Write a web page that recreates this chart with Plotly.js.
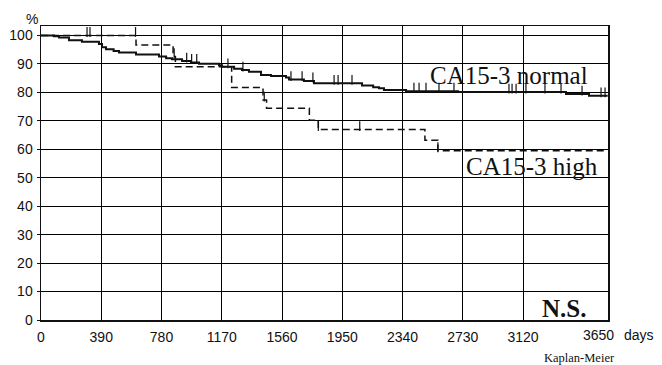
<!DOCTYPE html>
<html>
<head>
<meta charset="utf-8">
<script src="https://cdn.plot.ly/plotly-3.0.1.min.js"></script>
<style>
  html, body { margin: 0; padding: 0; background: #fff; }
  #chart { width: 662px; height: 365px; }
</style>
</head>
<body>
<div id="chart"></div>
<script>
// ---- data ----
const xTickVals = [0, 390, 780, 1170, 1560, 1950, 2340, 2730, 3120];
const xTickText = ["0", "390", "780", "1170", "1560", "1950", "2340", "2730", "3120"];
const yTickVals = [0, 10, 20, 30, 40, 50, 60, 70, 80, 90, 100];

// CA15-3 normal (solid)
const daysNormal = [0, 84, 117, 181, 265, 375, 395, 421, 470, 505, 615, 764, 810, 848, 913, 970, 1023, 1152, 1172, 1250, 1301, 1346, 1424, 1489, 1586, 1605, 1702, 1767, 2078, 2150, 2188, 2220, 2363, 2700, 3398, 3547, 3668];
const survNormal = [100, 99.7, 99.3, 98.3, 97.8, 97.0, 95.8, 95.1, 94.5, 94.0, 93.3, 92.6, 92.0, 91.6, 91.0, 90.5, 90.0, 89.5, 89.0, 88.3, 87.8, 87.2, 86.1, 85.7, 85.2, 84.5, 84.0, 83.2, 82.4, 81.8, 81.4, 80.8, 80.4, 80.1, 79.4, 78.8, 78.8];
const censorNormal = [943, 975, 1008, 1210, 1307, 1618, 1690, 1760, 1897, 1923, 2013, 2414, 2447, 2492, 2576, 2673, 3029, 3049, 3075, 3139, 3262, 3366, 3502, 3625, 3651];

// CA15-3 high (dashed)
const daysHigh = [0, 615, 855, 870, 1234, 1437, 1460, 1737, 1795, 2485, 2569, 3668];
const survHigh = [100, 96.6, 92.6, 89.0, 81.7, 77.3, 74.4, 70.2, 66.9, 63.2, 59.5, 59.5];
const censorHigh = [298, 317, 612, 862, 1445, 1795, 2063, 2569];

// ---- helpers ----
function stepAt(days, surv, t) {
  let v = surv[0];
  for (let i = 0; i < days.length; i++) { if (days[i] <= t) v = surv[i]; else break; }
  return v;
}
const tickLift = 1.2;
function censorY(days, surv, list) { return list.map(t => stepAt(days, surv, t) + tickLift); }

const serif = "Liberation Serif, Times New Roman, serif";
const sans = "Liberation Sans, Arial, sans-serif";
const ink = "#111";

const traces = [
  { x: daysNormal, y: survNormal, type: "scatter", mode: "lines", line: { shape: "hv", color: ink, width: 2 }, hoverinfo: "skip" },
  { x: daysHigh, y: survHigh, type: "scatter", mode: "lines", line: { shape: "hv", color: ink, width: 1.5, dash: "7px,4px" }, hoverinfo: "skip" },
  { x: censorNormal, y: censorY(daysNormal, survNormal, censorNormal), type: "scatter", mode: "markers",
    marker: { symbol: "line-ns-open", size: 7, color: ink, line: { color: ink, width: 1.2 } }, hoverinfo: "skip" },
  { x: censorHigh, y: censorY(daysHigh, survHigh, censorHigh), type: "scatter", mode: "markers",
    marker: { symbol: "line-ns-open", size: 7, color: ink, line: { color: ink, width: 1.2 } }, hoverinfo: "skip" }
];

const layout = {
  width: 662, height: 365,
  margin: { l: 41, r: 54, t: 26, b: 45 },
  paper_bgcolor: "#fff", plot_bgcolor: "#fff",
  showlegend: false,
  font: { family: sans, size: 14, color: ink },
  xaxis: {
    range: [0, 3670], tickvals: xTickVals, ticktext: xTickText,
    showgrid: true, gridcolor: "#000", gridwidth: 1, zeroline: false,
    showline: true, mirror: true, linecolor: "#111", linewidth: 1.5,
    ticks: "", ticklabelstandoff: 4,
    tickfont: { family: sans, size: 14, color: ink }
  },
  yaxis: {
    range: [0, 103.3], tickvals: yTickVals,
    showgrid: true, gridcolor: "#000", gridwidth: 1, zeroline: false,
    showline: true, mirror: true, linecolor: "#111", linewidth: 1.5,
    ticks: "outside", ticklen: 3, tickcolor: "#111", ticklabelstandoff: 1,
    tickfont: { family: sans, size: 14, color: ink }
  },
  annotations: [
    { xref: "paper", yref: "paper", x: -0.0164, y: 1.0238, text: "%", showarrow: false, font: { family: sans, size: 14, color: ink }, xanchor: "center", yanchor: "middle" },
    { xref: "paper", yref: "paper", x: 0.9824, y: -0.0527, text: "3650", showarrow: false, font: { family: sans, size: 14, color: ink }, xanchor: "center", yanchor: "middle" },
    { xref: "paper", yref: "paper", x: 1.0547, y: -0.0527, text: "days", showarrow: false, font: { family: sans, size: 14, color: ink }, xanchor: "center", yanchor: "middle" },
    { xref: "paper", yref: "paper", x: 0.9489, y: -0.1282, text: "Kaplan-Meier", showarrow: false, font: { family: serif, size: 12.5, color: ink }, xanchor: "center", yanchor: "middle" },
    { xref: "paper", yref: "paper", x: 0.9224, y: 0.0408, text: "<b>N.S.</b>", showarrow: false, font: { family: serif, size: 25, color: ink }, xanchor: "center", yanchor: "middle" },
    { xref: "paper", yref: "paper", x: 0.6843, y: 0.8333, text: "CA15-3 normal", showarrow: false, font: { family: serif, size: 25, color: ink }, xanchor: "left", yanchor: "middle", borderpad: 0 },
    { xref: "paper", yref: "paper", x: 0.7478, y: 0.5238, text: "CA15-3 high", showarrow: false, font: { family: serif, size: 25, color: ink }, xanchor: "left", yanchor: "middle", borderpad: 0 }
  ]
};

Plotly.newPlot("chart", traces, layout, { staticPlot: true, displayModeBar: false });
</script>
</body>
</html>
